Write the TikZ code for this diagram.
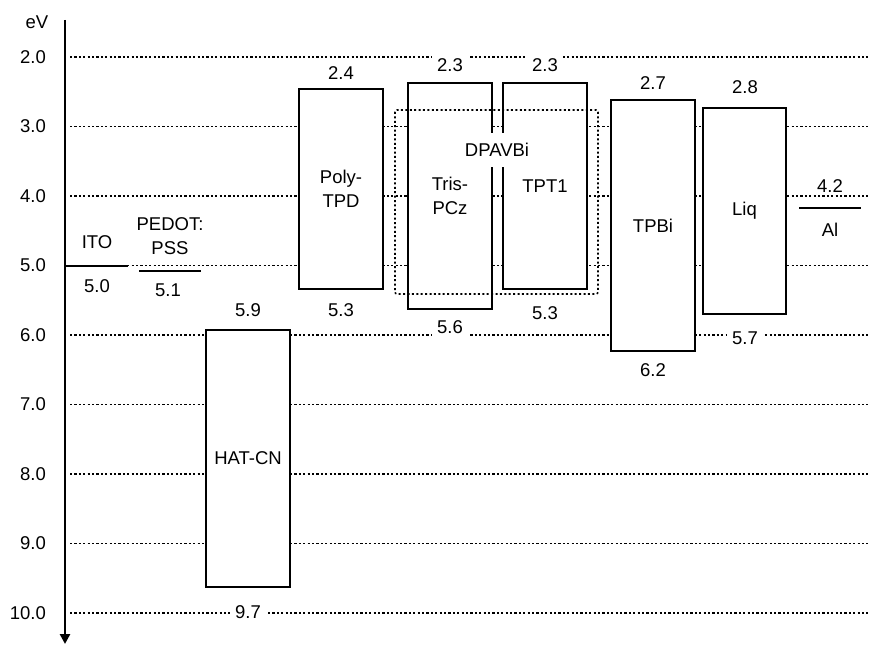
\documentclass[tikz,border=0pt]{standalone}
\usepackage{fontspec}
\setmainfont{Liberation Sans}
\usetikzlibrary{arrows.meta}
\begin{document}
\begin{tikzpicture}[x=1bp,y=-1bp,
  font=\fontsize{18.5bp}{24.5bp}\selectfont,
  grid/.style={line width=1.6bp, dash pattern=on 2.2bp off 2.2bp},
  ebox/.style={draw, fill=white, line width=1.6bp, minimum width=84bp, inner sep=0pt, align=center},
  dotbox/.style={line width=1.6bp, dash pattern=on 2bp off 2.4bp, rounded corners=2bp},
  val/.style={fill=white, inner xsep=5bp, inner ysep=3bp},
  lvl/.style={line width=1.7bp},
  tick/.style={anchor=east, inner sep=0pt},
  txt/.style={inner sep=0pt, align=center},
  axisline/.style={line width=2.6bp, -{Triangle[length=10bp,width=10bp]}}]
\useasboundingbox (0,0) rectangle (874,646);
% grid lines and tick labels
\foreach \v [evaluate=\v as \yy using 57+69.5*(\v-2)] in {2,...,10}{
  \draw[grid] (70,\yy) -- (868,\yy);
  \node[tick] (t\v) at (46,\yy) {\v.0};
}
% axis
\node[txt] (ev) at (37,22) {eV};
\coordinate (atop) at (65,20);
\coordinate (abot) at (65,644);
\draw[axisline] (atop) -- (abot);
% ITO
\coordinate (itoL) at (65,266);
\coordinate (itoR) at (128,266);
\draw[lvl] (itoL) -- (itoR);
\node[txt] (itolab) at (97,242) {ITO};
\node[val] (ito50) at (97,286) {5.0};
% PEDOT:PSS
\coordinate (pedL) at (139,271);
\coordinate (pedR) at (201,271);
\draw[lvl] (pedL) -- (pedR);
\node[txt] (pedlab) at (170,236) {PEDOT:\\PSS};
\node[val] (ped51) at (168,290) {5.1};
% HAT-CN
\node[ebox, minimum height=257bp] (hat) at (248,458.5) {HAT-CN};
\node[val] (hat59) at (248,310) {5.9};
\node[val] (hat97) at (248,612) {9.7};
% Poly-TPD
\node[ebox, minimum height=200bp] (poly) at (341,189) {Poly-\\TPD};
\node[val] (poly24) at (341,73) {2.4};
\node[val] (poly53) at (341,310) {5.3};
% Tris-PCz
\node[ebox, minimum height=226bp] (tris) at (450,196) {Tris-\\PCz};
\node[val] (tris23) at (450,65) {2.3};
\node[val] (tris56) at (450,327) {5.6};
% TPT1
\node[ebox, minimum height=206bp] (tpt) at (545,186) {TPT1};
\node[val] (tpt23) at (545,65) {2.3};
\node[val] (tpt53) at (545,313) {5.3};
% DPAVBi label (covers the sides of the two boxes)
\node[fill=white, inner xsep=2bp, inner ysep=10bp] (dpav) at (497,150) {DPAVBi};
% TPBi
\node[ebox, minimum height=251bp] (tpbi) at (653,225.5) {TPBi};
\node[val] (tpbi27) at (653,83) {2.7};
\node[val] (tpbi62) at (653,370) {6.2};
% Liq
\node[ebox, minimum width=83bp, minimum height=206bp] (liq) at (744.5,211) {Liq};
\node[val] (liq28) at (745,87) {2.8};
\node[val] (liq57) at (745,338) {5.7};
% Al
\coordinate (alL) at (799,208);
\coordinate (alR) at (861,208);
\draw[lvl] (alL) -- (alR);
\node[val] (al42) at (830,186) {4.2};
\node[txt] (allab) at (830,230) {Al};
% DPAVBi dotted frame
\coordinate (dpA) at (395,110);
\coordinate (dpB) at (598,294);
\draw[dotbox] (dpA) rectangle (dpB);
\end{tikzpicture}
\end{document}
